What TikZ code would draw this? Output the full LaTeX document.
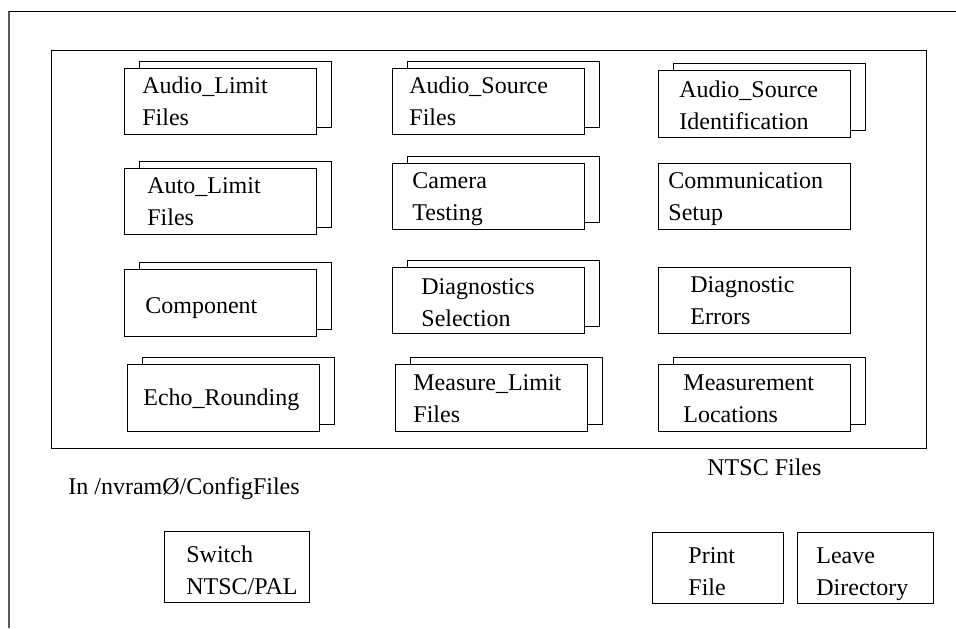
\documentclass[tikz,border=0pt]{standalone}
\usepackage{fontspec}
\setmainfont{Liberation Serif}
\usetikzlibrary{shadows}
\hfuzz=10pt

\tikzset{
  filebox/.style={draw, fill=white, anchor=north west, align=left,
    minimum width=96pt, minimum height=33pt, inner ysep=0pt,
    text height=12.5pt, text depth=20.5pt},
  filestack/.style={filebox,
    copy shadow={shadow xshift=7.5pt, shadow yshift=3.5pt, draw=black, fill=white}},
  button/.style={draw, anchor=north west, align=left,
    minimum height=35.5pt, inner ysep=0pt, text height=15.5pt, text depth=20pt},
  caption/.style={anchor=base west, inner sep=0pt}
}

\begin{document}
\begin{tikzpicture}[x=0.5pt, y=-0.5pt, font=\fontsize{12}{16}\selectfont]
\useasboundingbox (0,0) rectangle (956,628);

% window and file panel
\draw[line width=1pt, black!65] (9,628) -- (9,11);
\draw (9,11) -- (956,11);
\draw (51,50) rectangle (926,448);

% first column
\node[filestack, inner xsep=9pt, text width=78pt] (alimit) at (124,68) {Audio\_Limit\\Files};
\node[filestack, inner xsep=11.5pt, text width=73pt] (autolimit) at (124,168) {Auto\_Limit\\Files};
\node[filestack, inner xsep=10.5pt, text width=75pt, text height=22pt, text depth=11.5pt] (component) at (124,269) {Component};
\node[filestack, inner xsep=8pt, text width=80pt, text height=20.5pt, text depth=13pt] (echo) at (127,364) {Echo\_Rounding};

% second column
\node[filestack, inner xsep=8.5pt, text width=79pt] (asource) at (392,68) {Audio\_Source\\Files};
\node[filestack, inner xsep=10pt, text width=76pt] (camera) at (392,163) {Camera\\Testing};
\node[filestack, inner xsep=14.5pt, text width=67pt, text height=13.5pt, text depth=19.5pt] (diagsel) at (392,267) {Diagnostics\\Selection};
\node[filestack, inner xsep=9pt, text width=78pt, text height=13pt, text depth=20.5pt] (measlimit) at (395,364) {Measure\_Limit\\Files};

% third column
\node[filestack, inner xsep=10.5pt, text width=75pt, text height=13.5pt, text depth=20pt] (asid) at (658,70) {Audio\_Source\\Identification};
\node[filebox, inner xsep=5pt, text width=86pt] (comm) at (658,163) {Communication\\Setup};
\node[filebox, inner xsep=16pt, text width=64pt] (diagerr) at (658,267) {Diagnostic\\Errors};
\node[filestack, inner xsep=12.5pt, text width=71pt, text height=13pt, text depth=20.5pt] (measloc) at (658,364) {Measurement\\Locations};

% captions
\node[caption] (dir) at (68,494) {In /nvramØ/ConfigFiles};
\node[caption] (ntsc) at (707,475) {NTSC Files};

% buttons
\node[button, minimum width=72.5pt, inner xsep=11pt, text width=50.5pt] (switch) at (164,531) {Switch\\NTSC/PAL};
\node[button, minimum width=65.5pt, inner xsep=18pt, text width=29.5pt] (print) at (652,532) {Print\\File};
\node[button, minimum width=68pt, inner xsep=9.5pt, text width=49pt] (leave) at (797,532) {Leave\\Directory};
\end{tikzpicture}
\end{document}
